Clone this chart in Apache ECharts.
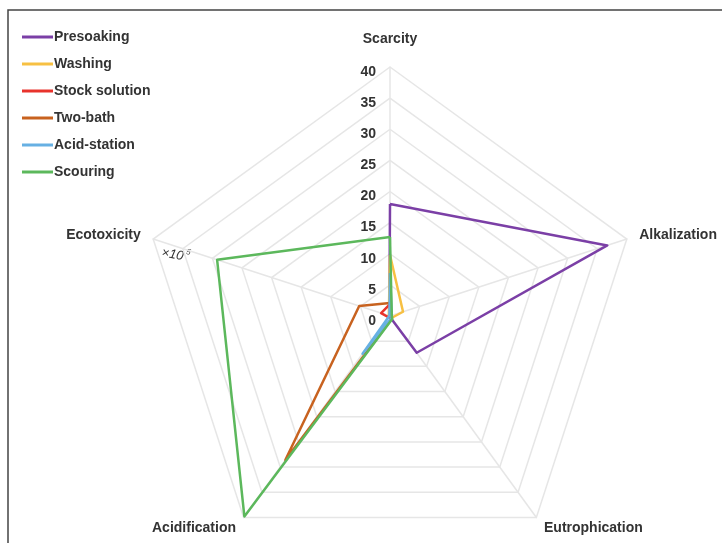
<!DOCTYPE html>
<html>
<head>
<meta charset="utf-8">
<script src="https://cdn.jsdelivr.net/npm/echarts@6/dist/echarts.min.js"></script>
<style>
  html, body { margin: 0; padding: 0; background: #fff; }
  #chart { width: 722px; height: 543px; }
</style>
</head>
<body>
<div id="chart"></div>
<script>
// indicators in ECharts order (counter-clockwise from the top),
// which puts them clockwise as Scarcity, Alkalization, Eutrophication, Acidification, Ecotoxicity
const indicators = ["Scarcity", "Ecotoxicity", "Acidification", "Eutrophication", "Alkalization"];
const axisMax = 40;

const presoaking    = [18.0, 0.1, 0.1, 7.3, 36.7];
const washing       = [9.8, 0.2, 0.2, 0.4, 2.2];
const stockSolution = [1.9, 1.5, 0.3, 0.2, 0.3];
const twoBath       = [2.1, 5.2, 28.6, 0.5, 0.3];
const acidStation   = [6.9, 0.1, 7.5, 0.4, 0.3];
const scouring      = [12.7, 29.2, 39.8, 0.6, 0.3];

const seriesNames = ["Presoaking", "Washing", "Stock solution", "Two-bath", "Acid-station", "Scouring"];
const seriesValues = [presoaking, washing, stockSolution, twoBath, acidStation, scouring];
const colors = ["#7b3fa6", "#f7c043", "#e8332c", "#c8621f", "#67b0e3", "#5cb85c"];

const chart = echarts.init(document.getElementById("chart"));

const textFont = {
  fontFamily: "Liberation Sans",
  fontSize: 14,
  fontWeight: "bold",
  color: "#333"
};

const option = {
  animation: false,
  backgroundColor: "#fff",
  color: colors,
  legend: {
    orient: "vertical",
    left: 17,
    top: 25,
    icon: "rect",
    itemWidth: 31,
    itemHeight: 3,
    itemGap: 13,
    data: seriesNames,
    textStyle: Object.assign({ padding: [0, 0, 0, -4] }, textFont)
  },
  radar: {
    center: [390, 316],
    radius: 249,
    startAngle: 90,
    splitNumber: 8,
    shape: "polygon",
    nameGap: 13,
    axisName: textFont,
    indicator: indicators.map((name, i) => {
      const ind = { name: name, min: 0, max: axisMax };
      if (i === 0) {
        // tick labels only on the first axis, a little below each ring
        ind.nameGap = 21;
        ind.axisLabel = Object.assign({
          show: true,
          margin: 14,
          verticalAlign: "top",
          lineHeight: 10
        }, textFont);
      }
      return ind;
    }),
    axisLine: { lineStyle: { color: "#e6e6e6", width: 1.5 } },
    splitLine: { lineStyle: { color: "#e6e6e6", width: 1.5 } },
    splitArea: { show: false },
    axisTick: { show: false }
  },
  graphic: [
    {
      type: "polyline",
      shape: { points: [[8, 543], [8, 10], [722, 10]] },
      style: { stroke: "#444", lineWidth: 1.5, fill: null }
    },
    {
      type: "text",
      x: 163,
      y: 246,
      rotation: -0.2,
      style: {
        text: "×10",
        fontFamily: "Liberation Sans",
        fontStyle: "italic",
        fontSize: 13,
        fill: "#333"
      }
    },
    {
      type: "text",
      x: 187,
      y: 248,
      rotation: -0.2,
      style: {
        text: "5",
        fontFamily: "Liberation Sans",
        fontStyle: "italic",
        fontSize: 8,
        fill: "#333"
      }
    }
  ],
  series: [
    {
      type: "radar",
      symbol: "none",
      lineStyle: { width: 2.5 },
      data: seriesNames.map((name, i) => ({
        name: name,
        value: seriesValues[i],
        lineStyle: { color: colors[i], width: 2.5 },
        itemStyle: { color: colors[i] }
      }))
    }
  ]
};

chart.setOption(option);
</script>
</body>
</html>
